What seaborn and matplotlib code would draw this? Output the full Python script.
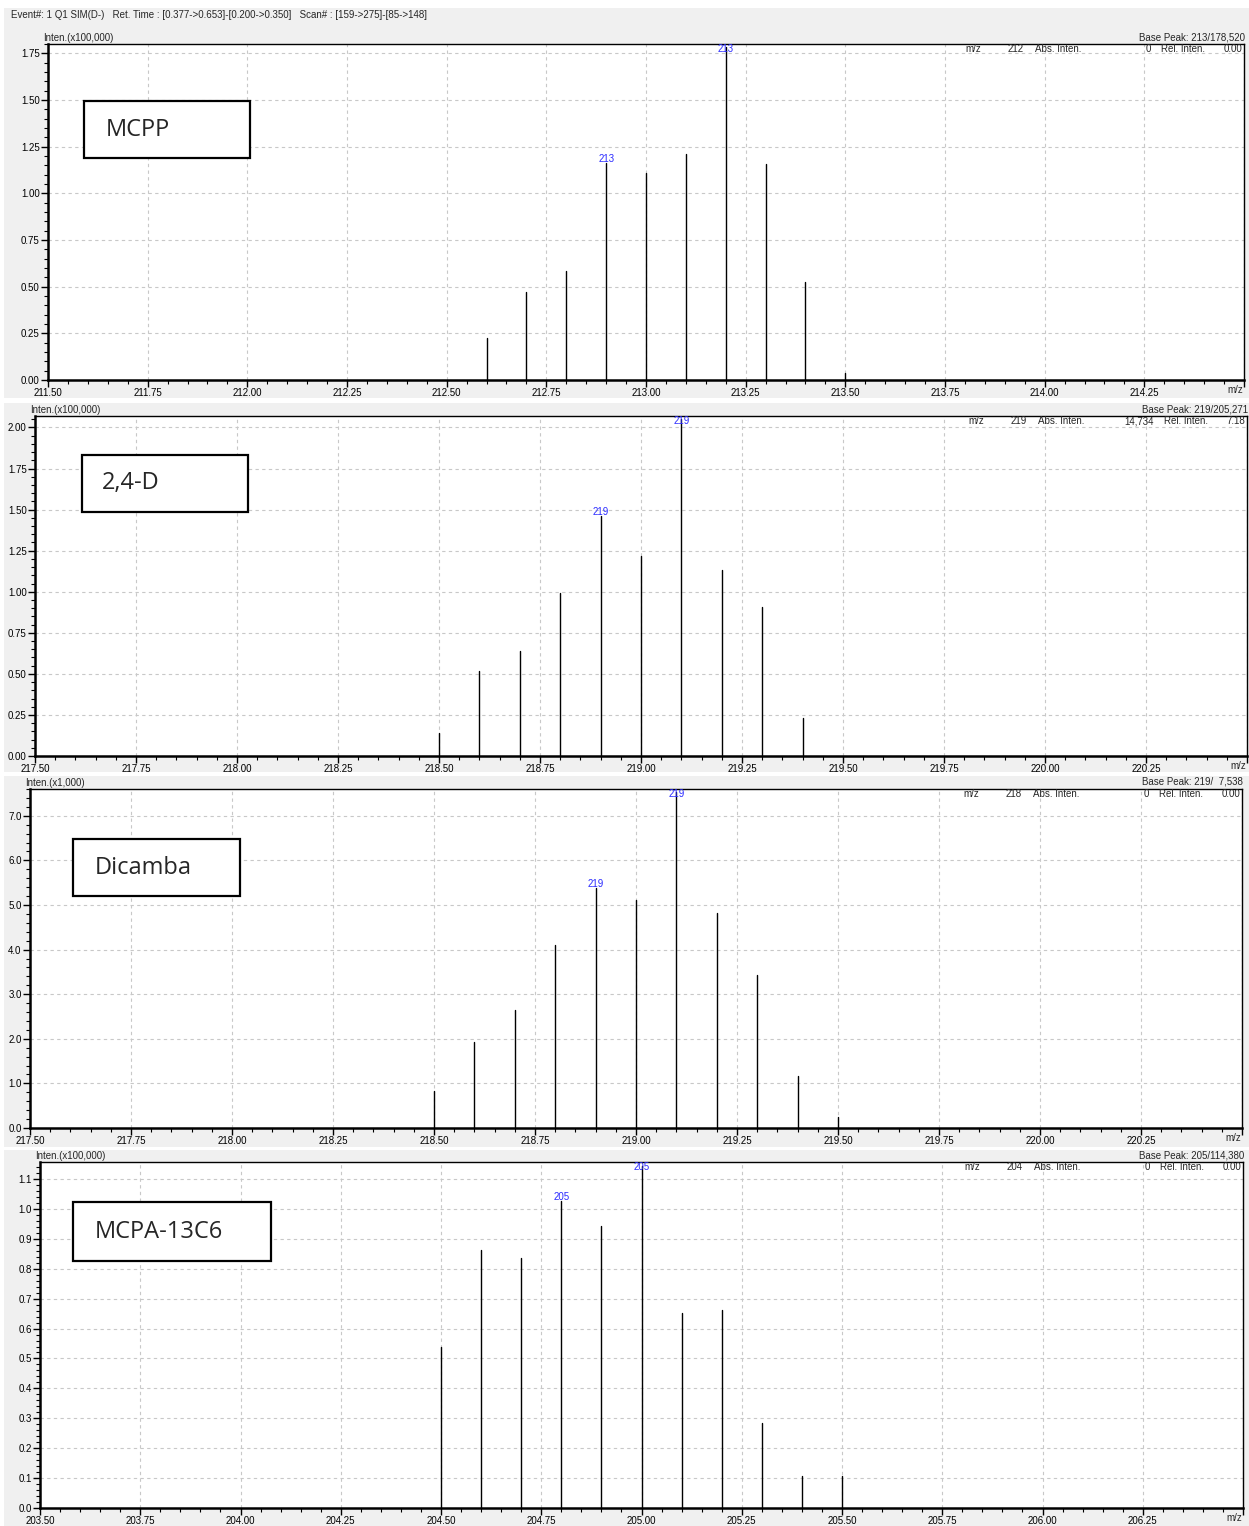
import numpy as np
import pandas as pd
import matplotlib
matplotlib.use("Agg")
import matplotlib.pyplot as plt
from matplotlib.patches import Rectangle
from matplotlib.ticker import MultipleLocator, FixedLocator
import seaborn as sns

sns.set_theme(style="white")
plt.rcParams['font.family'] = ['Liberation Sans', 'DejaVu Sans']

# ---------------- data ----------------
names = ["MCPP", "2,4-D", "Dicamba", "MCPA-13C6"]

mcpp_mz = [212.6, 212.7, 212.8, 212.9, 213.0, 213.1, 213.2, 213.3, 213.4, 213.5]
mcpp_int = [0.225, 0.47, 0.585, 1.165, 1.11, 1.21, 1.785, 1.155, 0.526, 0.04]

d24_mz = [218.5, 218.6, 218.7, 218.8, 218.9, 219.0, 219.1, 219.2, 219.3, 219.4]
d24_int = [0.14, 0.52, 0.64, 0.99, 1.46, 1.22, 2.05, 1.13, 0.91, 0.23]

dic_mz = [218.5, 218.6, 218.7, 218.8, 218.9, 219.0, 219.1, 219.2, 219.3, 219.4, 219.5]
dic_int = [0.83, 1.92, 2.65, 4.10, 5.38, 5.11, 7.54, 4.82, 3.43, 1.17, 0.25]

mcpa_mz = [204.5, 204.6, 204.7, 204.8, 204.9, 205.0, 205.1, 205.2, 205.3, 205.4, 205.5]
mcpa_int = [0.54, 0.863, 0.836, 1.027, 0.943, 1.144, 0.652, 0.662, 0.284, 0.107, 0.107]

peak_labels = [["213", "213"], ["219", "219"], ["219", "219"], ["205", "205"]]
label_idx = [[3, 6], [4, 6], [4, 6], [3, 5]]

xlims = [(211.5, 214.5), (217.5, 220.5), (217.5, 220.5), (203.5, 206.5)]
ylims = [(0, 1.80), (0, 2.07), (0, 7.6), (0, 1.157)]
ymajor = [0.25, 0.25, 1.0, 0.1]
yminor = [0.05, 0.05, 0.2, 0.02]
yfmt = ["{:.2f}", "{:.2f}", "{:.1f}", "{:.1f}"]
ymaxtick = [1.75, 2.00, 7.0, 1.1]

scale_labels = ["Inten.(x100,000)", "Inten.(x100,000)", "Inten.(x1,000)", "Inten.(x100,000)"]
base_peaks = ["Base Peak: 213/178,520", "Base Peak: 219/205,271",
              "Base Peak: 219/  7,538", "Base Peak: 205/114,380"]
info_mz = ["212", "219", "218", "204"]
info_abs = ["0", "14,734", "0", "0"]
info_rel = ["0.00", "7.18", "0.00", "0.00"]

header = ("Event#: 1 Q1 SIM(D-)   Ret. Time : [0.377->0.653]-[0.200->0.350]   "
          "Scan# : [159->275]-[85->148]")

series = [(mcpp_mz, mcpp_int), (d24_mz, d24_int), (dic_mz, dic_int), (mcpa_mz, mcpa_int)]

# ---------------- layout (pixels) ----------------
W, H = 1249, 1526
fig = plt.figure(figsize=(W / 100, H / 100), dpi=100)
fig.patch.set_facecolor("white")

def fx(x):
    return x / W

def fy(y):
    return 1 - y / H

# gray panel backgrounds
panels_bg = [(4, 8, 1249, 398), (4, 403, 1249, 772), (4, 776, 1249, 1147), (4, 1150, 1249, 1526)]
for (x0, y0, x1, y1) in panels_bg:
    fig.add_artist(Rectangle((fx(x0), fy(y1)), fx(x1 - x0), (y1 - y0) / H,
                             transform=fig.transFigure, facecolor="#f0f0f0",
                             edgecolor="none", zorder=-10))

axes_px = [(48, 44, 1244, 380), (35, 416, 1247, 756), (30, 789, 1242, 1128), (40, 1162, 1243, 1508)]
boxes_px = [(84, 101, 250, 158), (82, 455, 248, 512), (73, 839, 240, 896), (73, 1202, 271, 1261)]
text_x = [106, 102, 95, 95]

fs = 7

fig.text(fx(11), fy(15), header, fontsize=fs, va="center", ha="left")

for i, (l, t, r, b) in enumerate(axes_px):
    ax = fig.add_axes([fx(l), fy(b), fx(r - l), (b - t) / H])
    ax.set_facecolor("white")
    mz, inten = series[i]
    rows = []
    for k, (m, v) in enumerate(zip(mz, inten)):
        rows.append({"mz": m, "inten": 0.0, "peak": k})
        rows.append({"mz": m, "inten": v, "peak": k})
    df = pd.DataFrame(rows)
    sns.lineplot(data=df, x="mz", y="inten", units="peak", estimator=None,
                 color="black", lw=1.0, ax=ax, sort=False, legend=False)
    ax.set_xlim(*xlims[i])
    ax.set_ylim(*ylims[i])
    ax.set_xlabel("")
    ax.set_ylabel("")

    x0, x1 = xlims[i]
    xt = np.arange(x0, x1 + 1e-9, 0.25)
    ax.xaxis.set_major_locator(FixedLocator(xt))
    ax.set_xticklabels([f"{v:.2f}" for v in xt[:-1]] + [""])
    ax.xaxis.set_minor_locator(MultipleLocator(0.05))
    yt = np.arange(0, ymaxtick[i] + 1e-9, ymajor[i])
    ax.yaxis.set_major_locator(FixedLocator(yt))
    ax.set_yticklabels([yfmt[i].format(v) for v in yt])
    ax.yaxis.set_minor_locator(MultipleLocator(yminor[i]))

    ax.tick_params(axis="both", which="major", direction="out", length=5, width=1,
                   labelsize=fs, pad=1, colors="black")
    ax.tick_params(axis="both", which="minor", direction="out", length=3, width=0.8,
                   colors="black")
    ax.tick_params(axis="x", which="both", bottom=True)
    ax.tick_params(axis="y", which="both", left=True)
    ax.grid(True, which="major", color="#c8c8c8", ls=(0, (3, 3)), lw=0.8)
    ax.set_axisbelow(True)
    for s in ["top", "right"]:
        ax.spines[s].set_color("black")
        ax.spines[s].set_linewidth(1.0)
    for s in ["left", "bottom"]:
        ax.spines[s].set_color("black")
        ax.spines[s].set_linewidth(1.8)

    # peak labels
    ytop = ylims[i][1]
    px_to_data = ytop / (b - t)
    for lab, idx in zip(peak_labels[i], label_idx[i]):
        yv = inten[idx]
        yl = min(yv + 4 * px_to_data, ytop - 5 * px_to_data)
        ax.text(mz[idx], yl, lab, color="#2b2bff", fontsize=fs, ha="center",
                va="center", zorder=4)

    # texts around axes
    fig.text(fx(l - 5), fy(t - 6), scale_labels[i], fontsize=fs, ha="left", va="center")
    fig.text(fx(r + 1), fy(t - 7), base_peaks[i], fontsize=fs, ha="right", va="center")
    fig.text(fx(r - 9), fy(b + 10), "m/z", fontsize=fs, ha="center", va="center")

    # info row inside
    yi = fy(t + 5)
    fig.text(fx(r - 271), yi, "m/z", fontsize=fs, ha="center", va="center")
    fig.text(fx(r - 220), yi, info_mz[i], fontsize=fs, ha="right", va="center")
    fig.text(fx(r - 209), yi, "Abs. Inten.", fontsize=fs, ha="left", va="center")
    fig.text(fx(r - 93), yi, info_abs[i], fontsize=fs, ha="right", va="center")
    fig.text(fx(r - 83), yi, "Rel. Inten.", fontsize=fs, ha="left", va="center")
    fig.text(fx(r - 2), yi, info_rel[i], fontsize=fs, ha="right", va="center")

    # name box
    bx0, by0, bx1, by1 = boxes_px[i]
    fig.add_artist(Rectangle((fx(bx0), fy(by1)), fx(bx1 - bx0), (by1 - by0) / H,
                             transform=fig.transFigure, facecolor="white",
                             edgecolor="black", lw=1.6, zorder=5))
    fig.text(fx(text_x[i]), fy((by0 + by1) / 2), names[i], fontsize=17,
             family=["Open Sans", "DejaVu Sans"], ha="left", va="center", zorder=6)

fig.savefig("out.png", dpi=100, facecolor=fig.get_facecolor())
